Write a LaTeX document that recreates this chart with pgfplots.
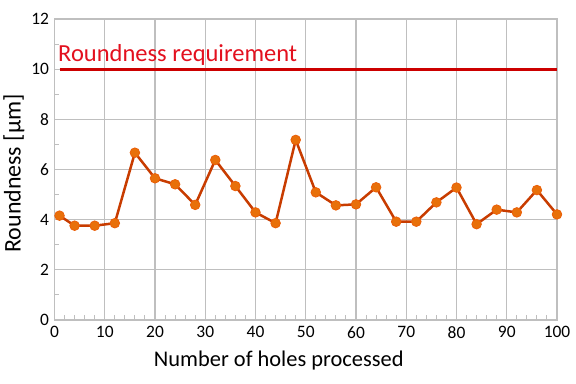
\documentclass[border=0pt]{standalone}
\usepackage{pgfplots}
\pgfplotsset{compat=1.18}
\usepackage{fontspec}
\setmainfont{Carlito}
\definecolor{gridc}{HTML}{BFBFBF}
\definecolor{linec}{HTML}{C83C00}
\definecolor{markc}{HTML}{E8700A}
\definecolor{reqc}{HTML}{CC0000}
\definecolor{reqt}{HTML}{E3101E}
\begin{document}
\begin{tikzpicture}
\begin{axis}[
  scale only axis,
  width=502.5bp, height=301bp,
  xmin=0, xmax=100, ymin=0, ymax=12,
  xtick={0,10,...,100}, ytick={0,2,...,12},
  minor x tick num=4, minor y tick num=1,
  grid=major,
  major grid style={gridc, line width=1.3bp},
  axis line style={gridc, line width=1.3bp},
  major tick length=0pt,
  minor tick length=5bp,
  minor tick style={gridc, line width=1bp},
  tick align=inside,
  xtick pos=bottom, ytick pos=left,
  tick label style={font=\fontsize{17.5}{20}\selectfont},
  xlabel style={font=\fontsize{22.5}{26}\selectfont, yshift=-6bp, xshift=-27bp},
  ylabel style={font=\fontsize{24}{28}\selectfont, yshift=0bp, xshift=-4bp},
  xlabel={Number of holes processed},
  ylabel={Roundness [μm]},
  xticklabel style={yshift=-3bp},
  yticklabel style={xshift=-2bp},
  /pgf/number format/assume math mode=true,
  clip=false,
]
\addplot[reqc, line width=3bp] coordinates {(1,10) (100,10)};
\node[anchor=base west, text=reqt, font=\fontsize{24.6}{28}\selectfont, inner sep=0pt] at (axis cs:0.7,10.3) {Roundness requirement};
\addplot[linec, line width=2.5bp, mark=*, mark size=4.8bp,
  mark options={fill=markc, draw=markc!85!red, line width=0.8bp}]
  coordinates {
  (1,4.16) (4,3.76) (8,3.76) (12,3.86) (16,6.67) (20,5.65) (24,5.41)
  (28,4.59) (32,6.38) (36,5.34) (40,4.29) (44,3.86) (48,7.18) (52,5.09)
  (56,4.57) (60,4.61) (64,5.29) (68,3.92) (72,3.92) (76,4.69) (80,5.28)
  (84,3.82) (88,4.40) (92,4.29) (96,5.18) (100,4.21)
  };
\coordinate (ll) at (rel axis cs:0,0);
\coordinate (ur) at (rel axis cs:1,1);
\end{axis}
\pgfresetboundingbox
\path ([shift={(-54.5bp,-64bp)}]ll) rectangle ([shift={(19bp,19bp)}]ur);
\end{tikzpicture}
\end{document}
